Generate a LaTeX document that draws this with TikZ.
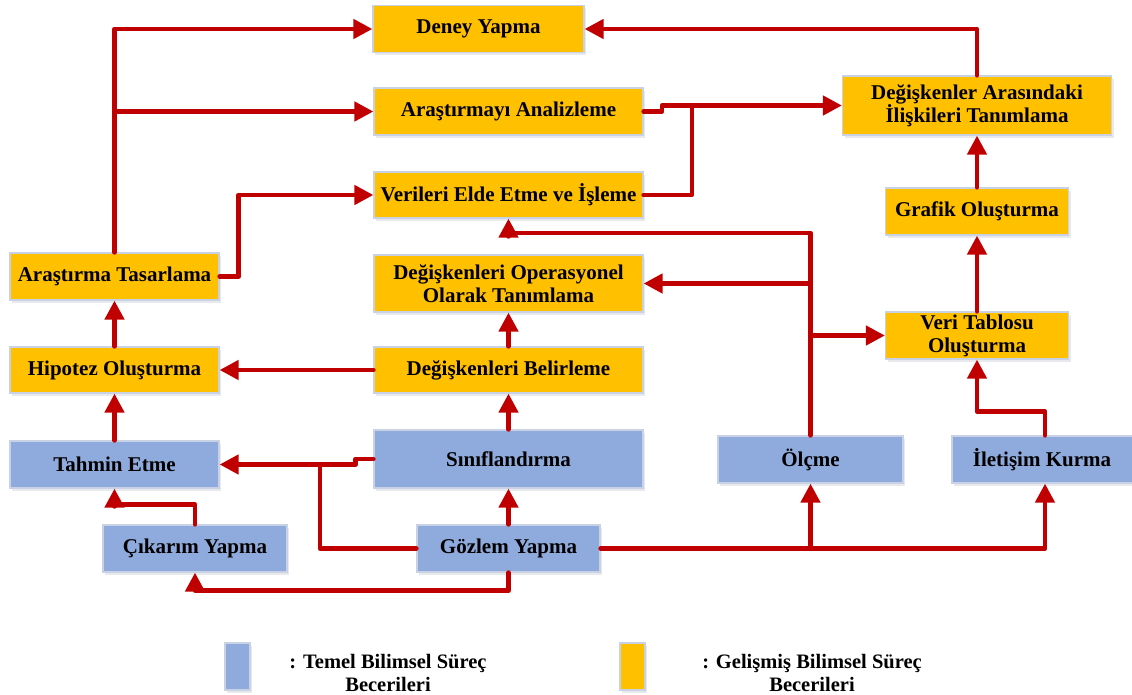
\documentclass[tikz,border=0pt]{standalone}
\usepackage{fontspec}
\setmainfont{Liberation Serif}
\usetikzlibrary{arrows.meta,shadows}
\definecolor{gorange}{HTML}{FFC000}
\definecolor{tblue}{HTML}{8FAADC}
\definecolor{ared}{HTML}{C00000}
\definecolor{bedge}{HTML}{C8D2E4}
\tikzset{
  boxbase/.style={draw=bedge, line width=1.2pt, inner sep=0pt, align=center,
    font=\bfseries\fontsize{21}{23}\selectfont,
    drop shadow={shadow xshift=2pt, shadow yshift=-3pt, opacity=0.25, fill=bedge!80!black}},
  gbox/.style={boxbase, fill=gorange},
  tbox/.style={boxbase, fill=tblue},
  sz/.style 2 args={minimum width=#1pt, minimum height=#2pt},
  conn/.style={draw=ared, line width=4.5pt, line join=round, line cap=round},
  ar/.style={conn, -{Triangle[length=19pt,width=19pt]}},
  legtext/.style={align=center, font=\bfseries\fontsize{20.5}{23}\selectfont}
}
\begin{document}
\begin{tikzpicture}[x=1pt,y=-1pt]
\useasboundingbox (0,0) rectangle (1132,695);
% nodes
\node[gbox, sz={211}{47}] (dy) at (478.5,29) {Deney Yapma};
\node[gbox, sz={269}{47}] (aa) at (508.5,111.5) {Araştırmayı Analizleme};
\node[gbox, sz={269}{46}] (ve) at (508.5,195) {Verileri Elde Etme ve İşleme};
\node[gbox, sz={269}{57}] (op) at (508.5,283.5) {Değişkenleri Operasyonel\\Olarak Tanımlama};
\node[gbox, sz={269}{46}] (db) at (508.5,370) {Değişkenleri Belirleme};
\node[tbox, sz={269}{58}] (sn) at (508.5,459) {Sınıflandırma};
\node[tbox, sz={183}{47}] (gz) at (508.5,548.5) {Gözlem Yapma};
\node[tbox, sz={184}{47}] (ck) at (195,548.5) {Çıkarım Yapma};
\node[tbox, sz={209}{47}] (te) at (114.5,464.5) {Tahmin Etme};
\node[gbox, sz={209}{46}] (ho) at (114.5,370) {Hipotez Oluşturma};
\node[gbox, sz={209}{47}] (at) at (114.5,276.5) {Araştırma Tasarlama};
\node[gbox, sz={269}{59}] (di) at (977,105.5) {Değişkenler Arasındaki\\İlişkileri Tanımlama};
\node[gbox, sz={183}{47}] (gr) at (977,211.5) {Grafik Oluşturma};
\node[gbox, sz={183}{47}] (vt) at (977,335.5) {Veri Tablosu\\Oluşturma};
\node[tbox, sz={185}{47}] (ol) at (810.5,459.5) {Ölçme};
\node[tbox, sz={186}{47}] (ik) at (1045,459.5) {};
\node[font=\bfseries\fontsize{21}{23}\selectfont] (ikt) at (1042,459.5) {İletişim Kurma};
% helper coordinates
\coordinate (j1) at (662,0);
\coordinate (j2) at (692,0);
\coordinate (j3) at (0,233);
\coordinate (j4) at (320,0);
% connectors
\draw[ar] (at.north) -- (at.north |- dy.west) -- (dy.west);
\draw[ar] (at.north |- aa.west) -- (aa.west);
\draw[ar] (at.east) -- ++(19,0) |- (ve.west);
\draw[ar] (di.north) |- (dy.east);
\draw[ar] (aa.east) -- (aa.east -| j1) |- (di.west);
\draw[conn] (ve.east) -| (j2 |- di.west);
\draw[ar] (gr.north) -- (di.south);
\draw[ar] (vt.north) -- (gr.south);
\draw[ar] (ol.north) -- (ol.north |- j3) -| (ve.south);
\draw[ar] (ol.north |- op.east) -- (op.east);
\draw[ar] (ol.north |- vt.west) -- (vt.west);
\draw[ar] (ik.north) -- ++(0,-24) -| (vt.south);
\draw[ar] (db.north) -- (op.south);
\draw[ar] (db.west) -- (ho.east);
\draw[ar] (ho.north) -- (at.south);
\draw[ar] (te.north) -- (ho.south);
\draw[ar] (gz.north) -- (sn.south);
\draw[ar] (sn.north) -- (db.south);
\draw[ar] (sn.west) -- ++(-18,0) |- (te.east);
\draw[conn] (gz.west) -| (j4 |- te.east);
\draw[ar] (ck.north) -- ++(0,-20) -| (te.south);
\draw[ar] (gz.south) -- ++(0,18) -| (ck.south);
\draw[ar] (gz.east) -| (ik.south);
\draw[ar] (gz.east -| ol.south) -- (ol.south);
% legend
\node[tbox, sz={25}{47}] (l1) at (237.5,666.5) {};
\node[gbox, sz={25}{47}] (l2) at (632.5,666.5) {};
\node[legtext] (l1t) at (388,673) {: Temel Bilimsel Süreç\\Becerileri};
\node[legtext] (l2t) at (812,673) {: Gelişmiş Bilimsel Süreç\\Becerileri};
\end{tikzpicture}
\end{document}
